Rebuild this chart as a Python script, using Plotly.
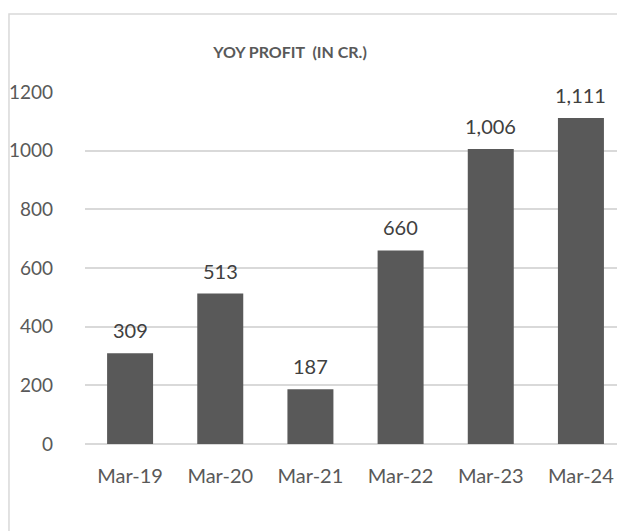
import plotly.graph_objects as go

categories = ["Mar-19", "Mar-20", "Mar-21", "Mar-22", "Mar-23", "Mar-24"]
profit = [309, 513, 187, 660, 1006, 1111]
y_ticks = [0, 200, 400, 600, 800, 1000, 1200]
title_text = "YOY PROFIT  (IN CR.)"

FONT = "Lato, Open Sans, sans-serif"
GREY_TXT = "#595959"

fig = go.Figure()
fig.add_trace(go.Bar(
    x=categories, y=profit,
    marker=dict(color="#595959", line=dict(width=0)),
    hoverinfo="x+y",
))

for c, v in zip(categories, profit):
    fig.add_annotation(
        x=c, y=v, text=f"{v:,}", showarrow=False,
        yanchor="bottom", yshift=9,
        font=dict(family=FONT, size=20, color="#404040"),
    )

fig.add_shape(
    type="rect", xref="paper", yref="paper",
    x0=-0.1429, x1=1.05, y0=-0.3, y1=1.2216,
    line=dict(color="#d9d9d9", width=1.5), fillcolor="rgba(0,0,0,0)",
    layer="below",
)

fig.update_layout(
    width=617, height=531,
    margin=dict(l=85, r=0, t=92, b=87),
    paper_bgcolor="white", plot_bgcolor="white",
    bargap=0.49,
    showlegend=False,
    title=dict(
        text=f"<b>{title_text}</b>", x=290 / 617, xanchor="center",
        y=1 - 52 / 531, yanchor="middle", xref="container", yref="container",
        font=dict(family=FONT, size=16, color=GREY_TXT),
    ),
    xaxis=dict(
        range=[-0.5, 5.4], showgrid=False, zeroline=False,
        showline=False, ticks="",
        tickfont=dict(family=FONT, size=20, color=GREY_TXT),
        ticklabelstandoff=18,
    ),
    yaxis=dict(
        range=[0, 1200], tickvals=y_ticks,
        showgrid=True, gridcolor="#d9d9d9", gridwidth=1.5,
        zeroline=True, zerolinecolor="#d9d9d9", zerolinewidth=1.5,
        showline=False, ticks="",
        tickfont=dict(family=FONT, size=19, color=GREY_TXT),
        ticklabelstandoff=31,
    ),
)

fig.write_html(
    "out.html",
    config={"displayModeBar": False},
    post_script="document.body.style.margin='0';document.body.style.overflow='hidden';",
)
